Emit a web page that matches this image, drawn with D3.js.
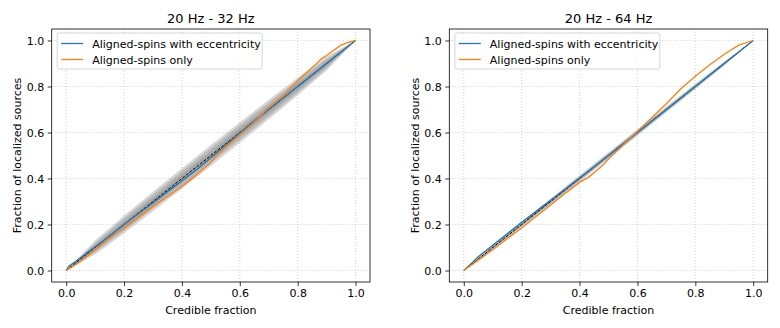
<!DOCTYPE html>
<html><head><meta charset="utf-8">
<script src="https://cdn.jsdelivr.net/npm/d3@7"></script>
<style>body{margin:0;background:#fff}svg{font-family:"DejaVu Sans",sans-serif}</style>
</head><body><svg id="c" width="780" height="328"></svg>
<script>
const titles = ["20 Hz - 32 Hz", "20 Hz - 64 Hz"];
const seriesNames = ["Aligned-spins with eccentricity", "Aligned-spins only"];
const tickValues = [0, 0.2, 0.4, 0.6, 0.8, 1.0];

const bandX = [0, 0.1, 0.2, 0.3, 0.4, 0.5, 0.6, 0.7, 0.8, 0.9, 1];
// half-widths of confidence bands (outer, middle, inner)
const bandLeftOuter = [0, 0.030, 0.038, 0.042, 0.045, 0.046, 0.045, 0.042, 0.038, 0.030, 0];
const bandLeftMid   = [0, 0.021, 0.027, 0.030, 0.032, 0.033, 0.032, 0.030, 0.027, 0.021, 0];
const bandLeftInner = [0, 0.011, 0.014, 0.016, 0.017, 0.017, 0.017, 0.016, 0.014, 0.011, 0];
const bandRightOuter = [0, 0.009, 0.012, 0.013, 0.014, 0.014, 0.014, 0.013, 0.012, 0.009, 0];
const bandRightMid   = [0, 0.006, 0.008, 0.009, 0.010, 0.010, 0.010, 0.009, 0.008, 0.006, 0];
const bandRightInner = [0, 0.003, 0.004, 0.005, 0.005, 0.005, 0.005, 0.005, 0.004, 0.003, 0];

const leftBlueX = [0,0.01,0.03,0.05,0.08,0.1,0.15,0.2,0.25,0.3,0.35,0.4,0.45,0.5,0.55,0.6,0.65,0.7,0.75,0.8,0.85,0.9,0.95,1];
const leftBlueY = [0,0.02,0.037,0.055,0.085,0.102,0.15,0.2,0.248,0.295,0.343,0.39,0.438,0.49,0.545,0.598,0.65,0.7,0.75,0.8,0.85,0.9,0.95,1];
const leftOrangeX = [0,0.02,0.05,0.08,0.1,0.15,0.2,0.25,0.3,0.35,0.4,0.45,0.5,0.52,0.55,0.6,0.65,0.7,0.75,0.8,0.83,0.86,0.88,0.9,0.92,0.95,0.97,1];
const leftOrangeY = [0,0.015,0.04,0.07,0.09,0.14,0.185,0.232,0.278,0.322,0.365,0.415,0.47,0.5,0.535,0.59,0.645,0.708,0.76,0.825,0.86,0.893,0.918,0.935,0.953,0.98,0.99,1];

const rightBlueX = [0,0.03,0.05,0.08,0.1,0.15,0.2,0.25,0.3,0.35,0.4,0.45,0.5,0.55,0.6,0.65,0.7,0.75,0.8,0.85,0.9,0.95,1];
const rightBlueY = [0,0.035,0.06,0.09,0.11,0.16,0.21,0.257,0.305,0.353,0.402,0.45,0.5,0.55,0.6,0.65,0.7,0.75,0.8,0.85,0.9,0.95,1];
const rightOrangeX = [0,0.05,0.1,0.15,0.2,0.25,0.3,0.35,0.4,0.43,0.45,0.48,0.5,0.55,0.6,0.65,0.7,0.75,0.8,0.85,0.9,0.95,1];
const rightOrangeY = [0,0.045,0.09,0.138,0.185,0.235,0.285,0.335,0.383,0.405,0.425,0.458,0.485,0.545,0.605,0.665,0.725,0.79,0.845,0.895,0.94,0.98,1];

const panels = [
  {left: 51.7, right: 370, title: titles[0], bands: [bandLeftOuter, bandLeftMid, bandLeftInner],
   blue: [leftBlueX, leftBlueY], orange: [leftOrangeX, leftOrangeY], ylabX: 17, legW: 205},
  {left: 449.3, right: 767.7, title: titles[1], bands: [bandRightOuter, bandRightMid, bandRightInner],
   blue: [rightBlueX, rightBlueY], orange: [rightOrangeX, rightOrangeY], ylabX: 415, legW: 205}
];
const topY = 29, bottomY = 282;
const svg = d3.select("#c");
const colors = ["#1f77b4", "#ff7f0e"];
const fs = 11;

panels.forEach((p, pi) => {
  const x = d3.scaleLinear().domain([-0.05, 1.05]).range([p.left, p.right]);
  const y = d3.scaleLinear().domain([-0.05, 1.05]).range([bottomY, topY]);
  const g = svg.append("g");
  const clipId = "clip" + pi;
  g.append("clipPath").attr("id", clipId).append("rect")
    .attr("x", p.left).attr("y", topY).attr("width", p.right - p.left).attr("height", bottomY - topY);

  // grid
  tickValues.forEach(t => {
    g.append("line").attr("x1", x(t)).attr("x2", x(t)).attr("y1", topY).attr("y2", bottomY)
      .attr("stroke", "#b0b0b0").attr("stroke-width", 0.8).attr("stroke-dasharray", "1,2").attr("opacity", 0.7);
    g.append("line").attr("y1", y(t)).attr("y2", y(t)).attr("x1", p.left).attr("x2", p.right)
      .attr("stroke", "#b0b0b0").attr("stroke-width", 0.8).attr("stroke-dasharray", "1,2").attr("opacity", 0.7);
  });

  const pc = g.append("g").attr("clip-path", `url(#${clipId})`);
  // bands
  p.bands.forEach(hw => {
    const area = d3.area().x((d, i) => x(bandX[i]))
      .y0((d, i) => y(bandX[i] - hw[i])).y1((d, i) => y(bandX[i] + hw[i]));
    pc.append("path").datum(bandX).attr("d", area).attr("fill", "#777").attr("opacity", 0.3);
  });
  // diagonal
  pc.append("line").attr("x1", x(0)).attr("y1", y(0)).attr("x2", x(1)).attr("y2", y(1))
    .attr("stroke", "#000").attr("stroke-width", 1).attr("stroke-dasharray", "3,1.5");

  const line = d3.line();
  [p.blue, p.orange].forEach((s, si) => {
    const pts = s[0].map((v, i) => [x(v), y(s[1][i])]);
    pc.append("path").attr("d", line(pts)).attr("fill", "none")
      .attr("stroke", colors[si]).attr("stroke-width", 1.3);
  });

  // axes
  const xa = g.append("g").attr("transform", `translate(0,${bottomY})`)
    .call(d3.axisBottom(x).tickValues(tickValues).tickFormat(d3.format(".1f")).tickSizeOuter(0).tickSize(4).tickPadding(3.5));
  const ya = g.append("g").attr("transform", `translate(${p.left},0)`)
    .call(d3.axisLeft(y).tickValues(tickValues).tickFormat(d3.format(".1f")).tickSizeOuter(0).tickSize(4).tickPadding(3.5));
  [xa, ya].forEach(a => {
    a.select(".domain").remove();
    a.selectAll("text").attr("font-size", fs).attr("fill", "#000").attr("font-family", "DejaVu Sans");
    a.selectAll("line").attr("stroke", "#000").attr("stroke-width", 0.8);
  });
  g.append("rect").attr("x", p.left).attr("y", topY).attr("width", p.right - p.left).attr("height", bottomY - topY)
    .attr("fill", "none").attr("stroke", "#000").attr("stroke-width", 0.8);

  // title & labels
  g.append("text").attr("x", (p.left + p.right) / 2).attr("y", 23).attr("text-anchor", "middle")
    .attr("font-size", 13).text(p.title);
  g.append("text").attr("x", (p.left + p.right) / 2).attr("y", 313.5).attr("text-anchor", "middle")
    .attr("font-size", fs).text("Credible fraction");
  g.append("text").attr("transform", `translate(${p.ylabX + 4},${(topY + bottomY) / 2}) rotate(-90)`)
    .attr("text-anchor", "middle").attr("font-size", fs).text("Fraction of localized sources");

  // legend
  const lx = p.left + 5.5, ly = topY + 4;
  const lg = g.append("g");
  lg.append("rect").attr("x", lx).attr("y", ly).attr("width", p.legW).attr("height", 36)
    .attr("rx", 2).attr("fill", "#fff").attr("fill-opacity", 0.8).attr("stroke", "#ccc").attr("stroke-width", 0.8);
  seriesNames.forEach((n, i) => {
    const yy = ly + 10.5 + i * 16;
    lg.append("line").attr("x1", lx + 4).attr("x2", lx + 26).attr("y1", yy).attr("y2", yy)
      .attr("stroke", colors[i]).attr("stroke-width", 1.3);
    lg.append("text").attr("x", lx + 35).attr("y", yy + 4).attr("font-size", fs).text(n);
  });
});
</script></body></html>
